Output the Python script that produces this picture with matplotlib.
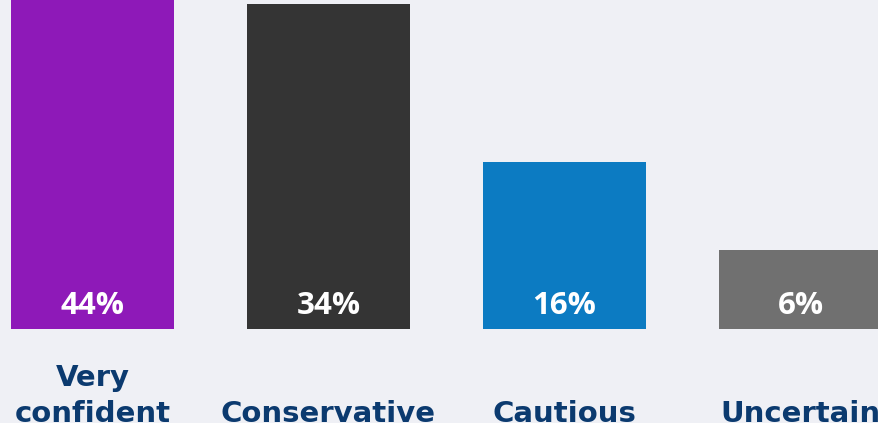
import matplotlib
matplotlib.use("Agg")
import matplotlib.pyplot as plt

categories = ["Very\nconfident", "Conservative", "Cautious", "Uncertain"]
values = [44, 34, 16, 6]
value_labels = ["44%", "34%", "16%", "6%"]
colors = ["#8E19B8", "#343434", "#0C7BC2", "#707070"]

BG = "#EFF0F5"
NAVY = "#0B3A6F"
BASE = 3.0

fig = plt.figure(figsize=(8.79, 4.23), dpi=100, facecolor=BG)
ax = fig.add_axes([0, 94 / 423, 1, 329 / 423])
ax.set_facecolor(BG)

x = list(range(len(values)))
ax.bar(x, [v + BASE for v in values], bottom=-BASE, width=163 / 236,
       color=colors, linewidth=0)

ax.set_xlim(-92.5 / 236, (879 - 92.5) / 236)
ax.set_ylim(-BASE, -BASE + 329 / 8.78)
ax.axis("off")

for i, (lab, cat) in enumerate(zip(value_labels, categories)):
    ax.annotate(lab, xy=(i, -BASE), xytext=(0, 23 / 1.389), textcoords="offset points",
                ha="center", va="center", color="white", fontsize=22.5,
                fontweight="bold", family="Open Sans", annotation_clip=False)
    ax.annotate(cat, xy=(i, -BASE), xytext=(0, -93 / 1.389), textcoords="offset points",
                ha="center", va="baseline", color=NAVY, fontsize=21,
                fontweight="bold", family="DejaVu Sans", linespacing=1.35,
                annotation_clip=False)

fig.savefig("out.png", dpi=100, facecolor=BG)
